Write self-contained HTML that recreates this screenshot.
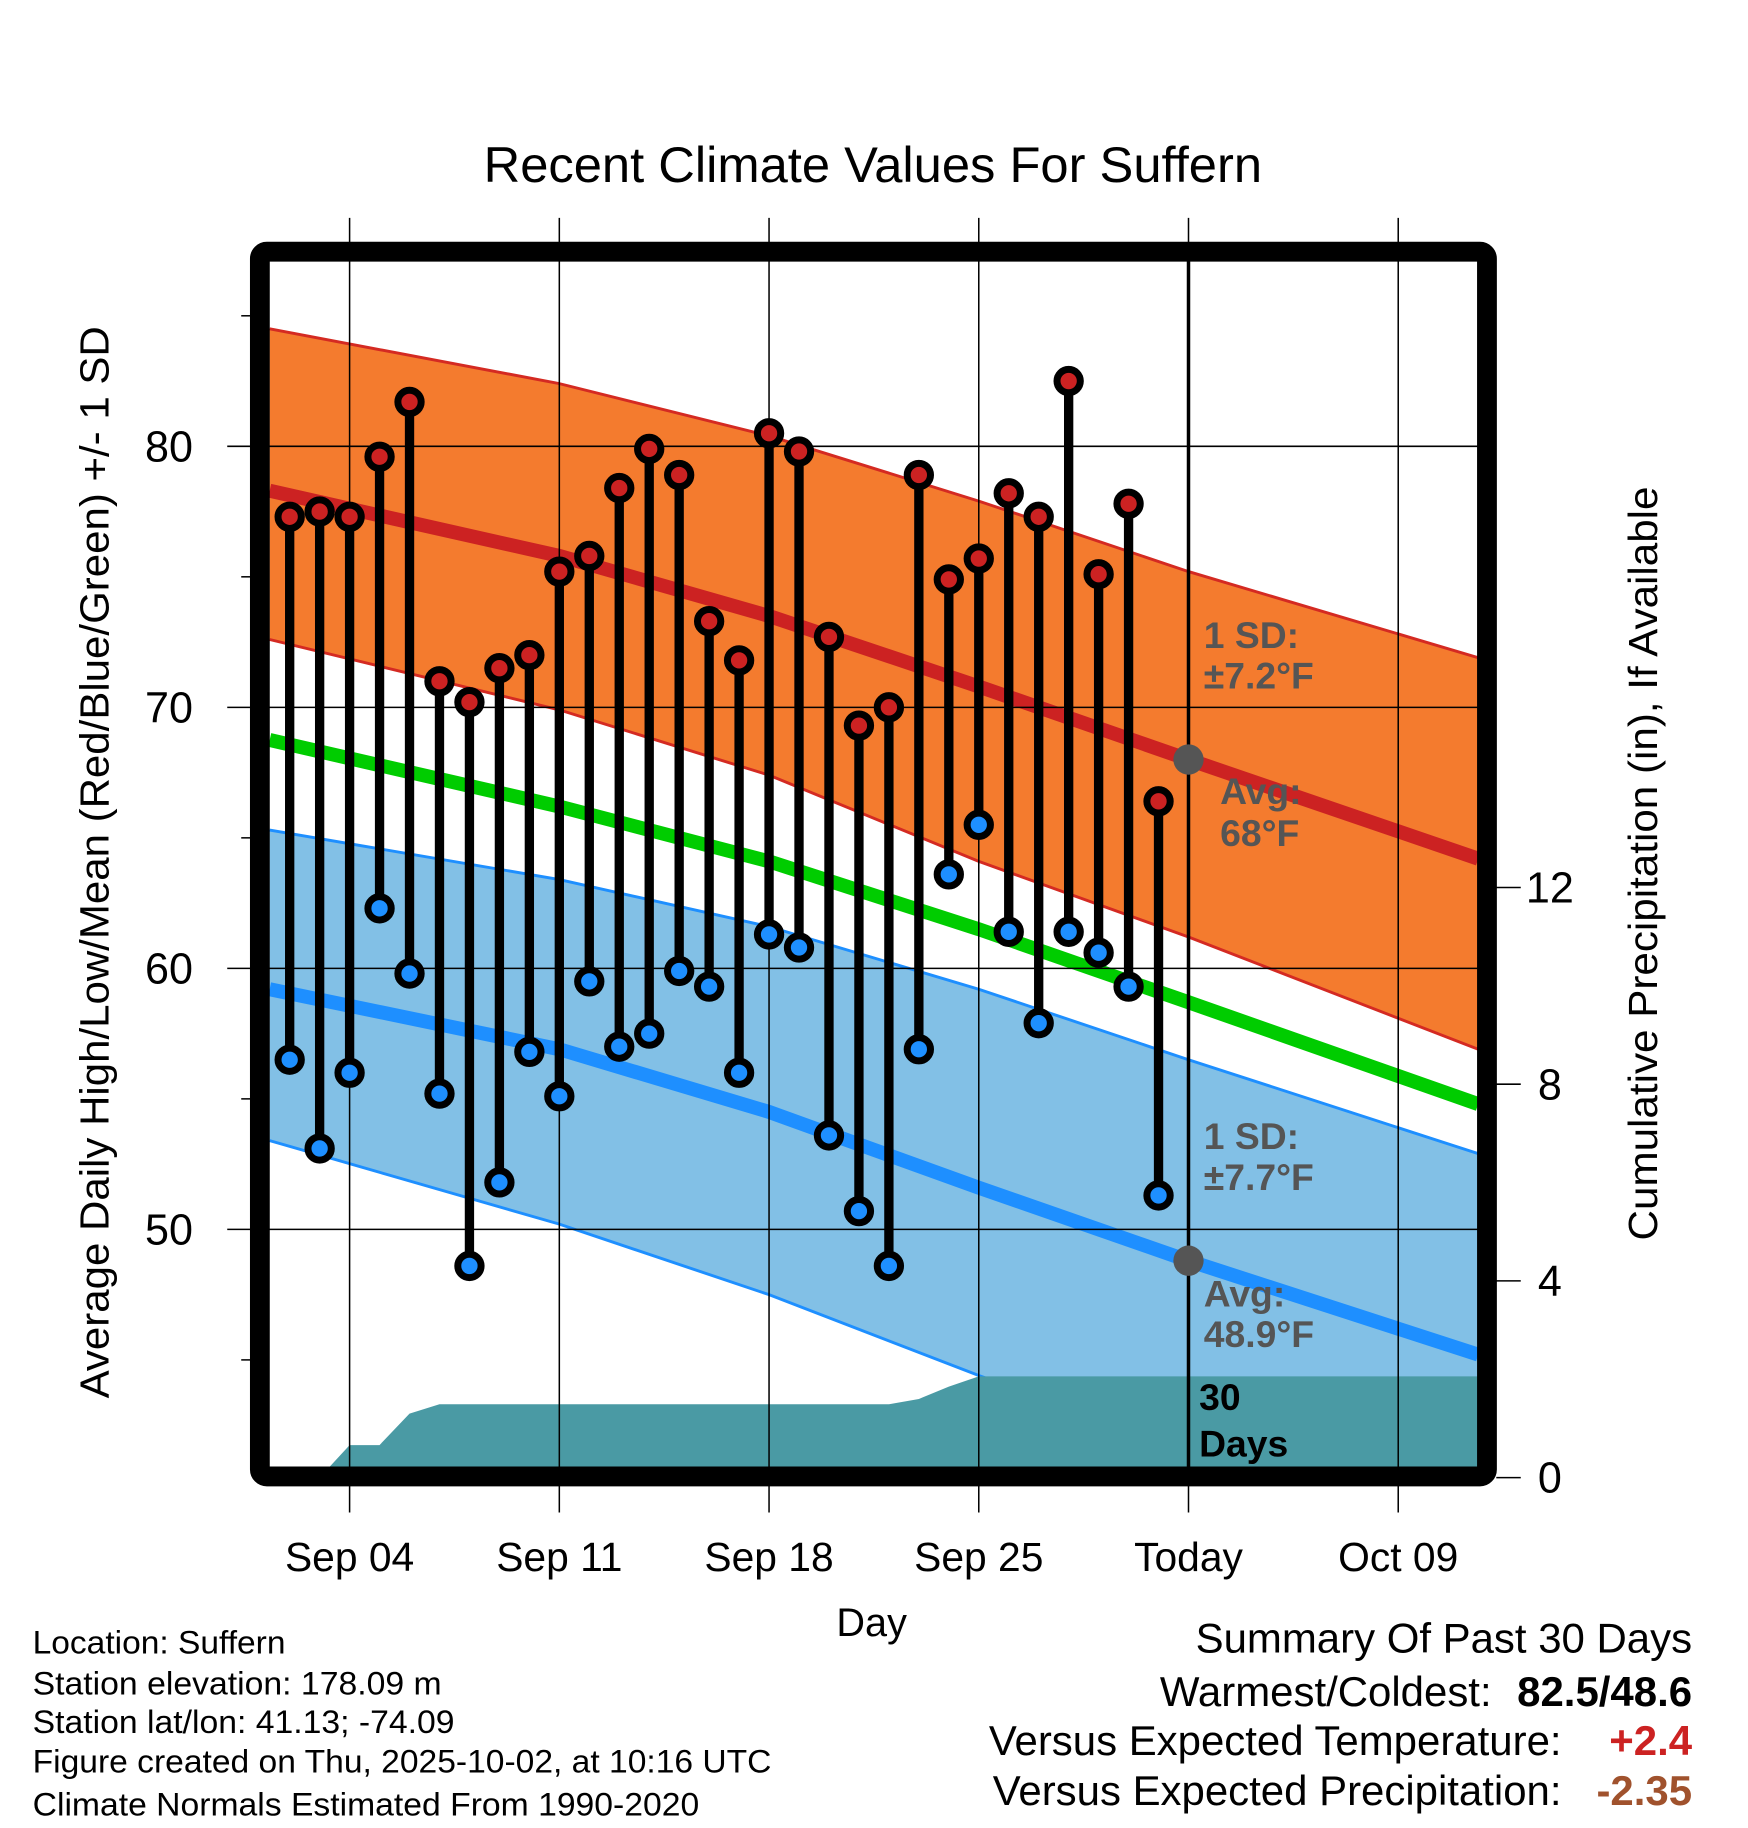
<!DOCTYPE html>
<html><head><meta charset="utf-8"><style>
html,body{margin:0;padding:0;background:#fff;}
svg{display:block;font-family:"Liberation Sans",Arial,sans-serif;}
</style></head><body>
<svg id="chart" width="1748" height="1828" viewBox="0 0 1500 1568.7" preserveAspectRatio="none" xmlns="http://www.w3.org/2000/svg">
<defs><clipPath id="plotclip"><rect x="231" y="224" width="1037" height="1036"/></clipPath></defs>
<g id="bands" clip-path="url(#plotclip)"></g>
<g id="grid"></g>
<g id="marks"></g>
<g id="annot"></g>
<rect x="223" y="216" width="1053" height="1051" fill="none" stroke="#000" stroke-width="17" rx="6"/>
<text x="749" y="156" font-size="43" text-anchor="middle" textLength="668" lengthAdjust="spacingAndGlyphs">Recent Climate Values For Suffern</text>
<text x="748" y="1404" font-size="34" text-anchor="middle">Day</text>
<text transform="translate(93,740) rotate(-90)" font-size="35" text-anchor="middle" textLength="920" lengthAdjust="spacingAndGlyphs">Average Daily High/Low/Mean (Red/Blue/Green) +/- 1 SD</text>
<text transform="translate(1422,741) rotate(-90)" font-size="35" text-anchor="middle" textLength="647" lengthAdjust="spacingAndGlyphs">Cumulative Precipitation (in), If Available</text>
<g font-size="28">
<text x="28" y="1419" textLength="217" lengthAdjust="spacingAndGlyphs">Location: Suffern</text>
<text x="28" y="1454" textLength="351" lengthAdjust="spacingAndGlyphs">Station elevation: 178.09 m</text>
<text x="28" y="1487" textLength="362" lengthAdjust="spacingAndGlyphs">Station lat/lon: 41.13; -74.09</text>
<text x="28" y="1521" textLength="634" lengthAdjust="spacingAndGlyphs">Figure created on Thu, 2025-10-02, at 10:16 UTC</text>
<text x="28" y="1558" textLength="572" lengthAdjust="spacingAndGlyphs">Climate Normals Estimated From 1990-2020</text>
</g>
<g font-size="36">
<text x="1452" y="1418" text-anchor="end">Summary Of Past 30 Days</text>
<text x="1280" y="1464" text-anchor="end">Warmest/Coldest:</text>
<text x="1452" y="1464" text-anchor="end" font-weight="bold">82.5/48.6</text>
<text x="1340" y="1506" text-anchor="end">Versus Expected Temperature:</text>
<text x="1452" y="1506" text-anchor="end" font-weight="bold" fill="#cc2222">+2.4</text>
<text x="1340" y="1549" text-anchor="end">Versus Expected Precipitation:</text>
<text x="1452" y="1549" text-anchor="end" font-weight="bold" fill="#a0522d">-2.35</text>
</g>
</svg>
<script>
// ---- data ----
const days = [2,3,4,5,6,7,8,9,10,11,12,13,14,15,16,17,18,19,20,21,22,23,24,25,26,27,28,29,30,31];
const highs = [77.3,77.5,77.3,79.6,81.7,71.0,70.2,71.5,72.0,75.2,75.8,78.4,79.9,78.9,73.3,71.8,80.5,79.8,72.7,69.3,70.0,78.9,74.9,75.7,78.2,77.3,82.5,75.1,77.8,66.4];
const lows = [56.5,53.1,56.0,62.3,59.8,55.2,48.6,51.8,56.8,55.1,59.5,57.0,57.5,59.9,59.3,56.0,61.3,60.8,53.6,50.7,48.6,56.9,63.6,65.5,61.4,57.9,61.4,60.6,59.3,51.3];
const precip = [0,0,0.66,0.66,1.3,1.49,1.49,1.49,1.49,1.49,1.49,1.49,1.49,1.49,1.49,1.49,1.49,1.49,1.49,1.49,1.49,1.6,1.85,2.06,2.06,2.06,2.06,2.06,2.06,2.06];
const normDays = [1.33,11,18,25,32,41.67];
const normHighUpper = [84.5,82.4,80.4,77.9,75.2,71.9];
const normHigh = [78.3,75.8,73.5,70.8,68.0,64.2];
const normHighLower = [72.6,69.9,67.4,64.1,61.2,56.9];
const normMean = [68.75,66.2,64.1,61.5,58.7,54.8];
const normLowUpper = [65.3,63.4,61.6,59.2,56.5,52.9];
const normLow = [59.2,56.9,54.5,51.6,48.8,45.2];
const normLowLower = [53.4,50.2,47.5,44.4,41.5,38.0];
const xTickDays = [4,11,18,25,32,39];
const xTickLabels = ["Sep 04","Sep 11","Sep 18","Sep 25","Today","Oct 09"];
const yTicks = [50,60,70,80];
const yMinor = [45,55,65,75,85];
const y2Ticks = [0,4,8,12];
const todayDay = 32;
// ---- scales ----
const X = d => 300 + (d - 4) * 25.71;
const Y = t => 383 + (80 - t) * 22.4;
const Y2 = p => 1268 - p * 42.2;
const NS = "http://www.w3.org/2000/svg";
function mk(tag, attrs, parent){const e=document.createElementNS(NS,tag);for(const k in attrs)e.setAttribute(k,attrs[k]);parent.appendChild(e);return e;}
const bands=document.getElementById('bands'), grid=document.getElementById('grid'), marks=document.getElementById('marks'), annot=document.getElementById('annot');
function pts(arr){return normDays.map((d,i)=>X(d).toFixed(1)+','+Y(arr[i]).toFixed(1));}
function band(up,lo,fill,stroke,name){
  const p=pts(up).concat(pts(lo).reverse()).join(' ');
  const e=mk('polygon',{points:p,fill:fill},bands);
  
  
  [up,lo].forEach(a=>{const l=mk('polyline',{points:pts(a).join(' '),fill:'none',stroke:stroke,'stroke-width':2.5},bands);
  
  });
}
function line(arr,color,w,name){const e=mk('polyline',{points:pts(arr).join(' '),fill:'none',stroke:color,'stroke-width':w},bands);
  
  }
band(normHighUpper,normHighLower,'#f47b2e','#d42a22','high-sd-band');
band(normLowUpper,normLowLower,'#82c0e6','#1e8fff','low-sd-band');
line(normHigh,'#cc2222',12,'avg-high-line');
line(normMean,'#00cc00',12,'avg-mean-line');
line(normLow,'#1e8fff',12,'avg-low-line');
// precip area
let pp=[X(days[0]).toFixed(1)+','+Y2(0)];
days.forEach((d,i)=>pp.push(X(d).toFixed(1)+','+Y2(precip[i]).toFixed(1)));
pp.push('1270,'+Y2(precip[precip.length-1]).toFixed(1));pp.push('1270,'+Y2(0));
const pa=mk('polygon',{points:pp.join(' '),fill:'#4a9aa4'},bands);


// grid & ticks
xTickDays.forEach((d,i)=>{
  const g=mk('line',{x1:X(d),x2:X(d),y1:187,y2:1298,stroke:'#000','stroke-width':1.3},grid);
  
  
  const t=mk('text',{x:X(d),y:1348,'font-size':35,'text-anchor':'middle'},grid);t.textContent=xTickLabels[i];
  
  
});
yTicks.forEach(v=>{
  const g=mk('line',{x1:195,x2:1268,y1:Y(v),y2:Y(v),stroke:'#000','stroke-width':1.3},grid);
  
  
  const t=mk('text',{x:145,y:Y(v)+13,'font-size':37,'text-anchor':'middle'},grid);t.textContent=v;
  
  
});
yMinor.forEach(v=>{const g=mk('line',{x1:207,x2:216,y1:Y(v),y2:Y(v),stroke:'#000','stroke-width':1.3},grid);
  
  });
y2Ticks.forEach(v=>{
  const g=mk('line',{x1:1284,x2:1305,y1:Y2(v),y2:Y2(v),stroke:'#000','stroke-width':1.3},grid);
  
  
  const t=mk('text',{x:1330,y:Y2(v)+13,'font-size':37,'text-anchor':'middle'},grid);t.textContent=v;
  
  
});
// today line
const tl=mk('line',{x1:X(todayDay),x2:X(todayDay),y1:224,y2:1260,stroke:'#000','stroke-width':3},marks);


// stems
days.forEach((d,i)=>{
  const s=mk('line',{x1:X(d),x2:X(d),y1:Y(highs[i]),y2:Y(lows[i]),stroke:'#000','stroke-width':8},marks);
  
  
  const h=mk('circle',{cx:X(d),cy:Y(highs[i]),r:10,fill:'#cc2222',stroke:'#000','stroke-width':6},marks);
  
  
  const l=mk('circle',{cx:X(d),cy:Y(lows[i]),r:10,fill:'#1e8fff',stroke:'#000','stroke-width':6},marks);
  
  
});
// today normal dots
const tHigh=normHigh[4], tLow=normLow[4];
[[tHigh,'today-avg-high-dot'],[tLow,'today-avg-low-dot']].forEach(a=>{
  const c=mk('circle',{cx:X(todayDay),cy:Y(a[0]),r:13,fill:'#555'},annot);
  
  
});
// annotations
const notes=[[1033,556,'1 SD:','#555'],[1033,591,'±7.2°F','#555'],[1047,690,'Avg:','#555'],[1047,726,'68°F','#555'],
[1033,986,'1 SD:','#555'],[1033,1021,'±7.7°F','#555'],[1033,1121,'Avg:','#555'],[1033,1156,'48.9°F','#555'],
[1029,1210,'30','#000'],[1029,1250,'Days','#000']];
notes.forEach(n=>{const t=mk('text',{x:n[0],y:n[1],'font-size':32,'font-weight':'bold',fill:n[3]},annot);t.textContent=n[2];
  
  });
</script>
</body></html>
